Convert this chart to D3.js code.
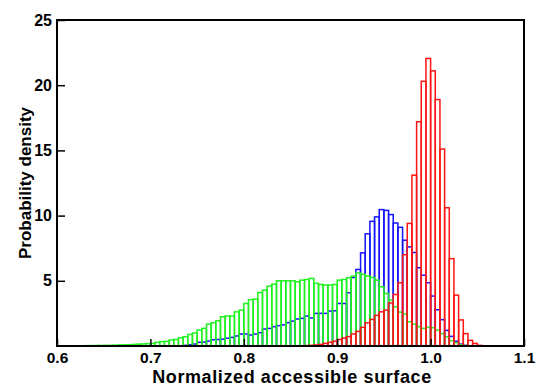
<!DOCTYPE html>
<html><head><meta charset="utf-8">
<script src="https://cdn.jsdelivr.net/npm/d3@7"></script>
<style>
html,body{margin:0;padding:0;background:#fff;}
svg{display:block;}
text{font-family:"Liberation Sans",Arial,Helvetica,sans-serif;font-weight:bold;fill:#000;}
</style></head>
<body>
<svg id="chart" width="537" height="385"></svg>
<script>
// ---- data ----
const binWidth = 0.005;
const xTicks = [0.6, 0.7, 0.8, 0.9, 1.0, 1.1];
const yTicks = [5, 10, 15, 20, 25];
const xTitle = "Normalized accessible surface";
const yTitle = "Probability density";

const greenStart = 0.630;
const greenValues = [0.03,0.03,0.04,0.04,0.05,0.05,0.06,0.08,0.09,0.1,0.12,0.14,0.16,0.18,
  0.2,0.28,0.33,0.36,0.46,0.5,0.63,0.71,0.89,1.0,1.22,1.35,1.68,1.78,1.94,2.24,2.3,2.3,2.62,2.75,
  3.26,3.55,3.6,4.1,4.28,4.59,4.74,5.0,5.0,5.0,5.0,4.92,5.05,5.1,5.18,4.8,4.72,4.67,4.67,4.72,
  5.05,5.1,5.23,5.36,5.6,5.49,5.36,5.26,5.05,4.54,4.03,3.52,3.0,2.6,2.45,1.86,1.68,1.48,1.35,
  1.43,1.4,1.22,0.95,0.71,0.41,0.26,0.1,0.03];

const blueStart = 0.735;
const blueValues = [0.05,0.1,0.15,0.28,0.3,0.38,0.48,0.5,0.52,0.6,0.66,0.77,0.92,0.92,0.84,0.92,
  1.02,1.3,1.35,1.48,1.56,1.62,1.79,1.91,2.07,2.12,2.3,2.15,2.5,2.5,2.5,2.68,2.7,3.26,3.26,4.08,
  5.25,5.87,7.14,8.6,9.56,9.9,10.46,10.4,10.08,9.43,9.1,8.11,7.6,7.17,6.0,5.43,4.85,3.83,2.78,
  2.02,1.2,0.74,0.37,0.15,0.05];

const redStart = 0.865;
const redValues = [0.03,0.05,0.08,0.12,0.2,0.28,0.36,0.5,0.6,0.72,0.92,1.12,1.43,1.78,2.04,2.35,
  2.62,2.75,3.3,3.95,4.85,7.0,9.4,13.1,17.2,20.3,22.05,21.1,18.9,15.1,10.6,6.7,3.9,2.0,0.95,
  0.43,0.2,0.05];

const seriesList = [
  {name:"blue", start: blueStart, values: blueValues, color:"#1414ff"},
  {name:"green", start: greenStart, values: greenValues, color:"#1ff21f"},
  {name:"red", start: redStart, values: redValues, color:"#ff1414"}
];

// ---- chart ----
const svg = d3.select("#chart");
const mLeft = 57, mRight = 524, mTop = 20, mBottom = 346;
const x = d3.scaleLinear().domain([0.6, 1.1]).range([mLeft, mRight]);
const y = d3.scaleLinear().domain([0, 25]).range([mBottom, mTop]);

const plot = svg.append("g");
seriesList.forEach(s => {
  plot.append("g").selectAll("rect").data(s.values).join("rect")
    .attr("x", (d,i) => x(s.start + i*binWidth))
    .attr("width", (d,i) => x(s.start + (i+1)*binWidth) - x(s.start + i*binWidth))
    .attr("y", d => y(d))
    .attr("height", d => y(0) - y(d))
    .attr("fill", "none")
    .attr("stroke", s.color)
    .attr("stroke-width", 1.5);
});

// axes
const xAxis = d3.axisBottom(x).tickValues(xTicks).tickFormat(d3.format(".1f"))
  .tickSizeInner(-7).tickSizeOuter(0).tickPadding(5.5);
const gx = svg.append("g").attr("transform", `translate(0,${mBottom})`).call(xAxis);
gx.select(".domain").remove();
gx.selectAll(".tick line").attr("stroke", "#000").attr("stroke-width", 1.5);
gx.selectAll(".tick text").attr("font-size", 15.5).attr("dy", "0.71em")
  .style("font-family", '"Liberation Sans",Arial,sans-serif').style("font-weight", "bold");

const yAxis = d3.axisLeft(y).tickValues(yTicks)
  .tickSizeInner(-8).tickSizeOuter(0).tickPadding(5);
const gy = svg.append("g").attr("transform", `translate(${mLeft},0)`).call(yAxis);
gy.select(".domain").remove();
gy.selectAll(".tick line").attr("stroke", "#000").attr("stroke-width", 1.5);
gy.selectAll(".tick text").attr("font-size", 16)
  .style("font-family", '"Liberation Sans",Arial,sans-serif').style("font-weight", "bold");

// frame
svg.append("rect").attr("x", mLeft).attr("y", mTop)
  .attr("width", mRight - mLeft).attr("height", mBottom - mTop)
  .attr("fill", "none").attr("stroke", "#000").attr("stroke-width", 2);

// titles
svg.append("text").attr("x", 292).attr("y", 382.5)
  .attr("text-anchor", "middle").attr("font-size", 18).attr("letter-spacing", 0.6).text(xTitle);
svg.append("text").attr("transform", `translate(31,${(mTop + mBottom) / 2}) rotate(-90)`)
  .attr("text-anchor", "middle").attr("font-size", 17).text(yTitle);
</script>
</body></html>
